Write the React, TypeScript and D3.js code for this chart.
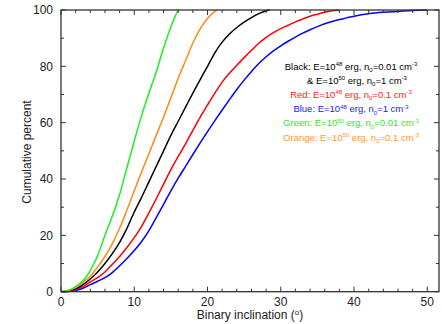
import React from "react";
import * as d3 from "d3";

const W = 442;
const H = 324;

// Cumulative percent vs binary inclination (degrees)
const green: [number, number][] = [
  [0, 0], [0.5, 0.2], [1, 0.5], [1.5, 1.0], [2, 1.8], [2.5, 2.8], [3, 4.0], [3.5, 5.5], [4, 7.5],
  [4.5, 10], [5, 12.8], [6, 20], [7, 26.8], [8, 34.5], [9, 44], [10, 53.5], [11, 62.5], [12, 70.5],
  [13, 78], [14, 86.5], [15, 94], [15.5, 97.3], [16, 100],
];
const orange: [number, number][] = [
  [0, 0], [1, 0.4], [2, 1.5], [3, 3.4], [4, 5.5], [5, 8.8], [6, 12.5], [7, 17], [8, 22.5], [9, 29],
  [10, 35.8], [11, 42.5], [12, 49], [13, 55.5], [14, 62], [15, 68.8], [16, 75.8], [17, 82], [18, 88.3],
  [19, 93.3], [20, 97], [21, 99.5], [21.3, 100],
];
const black: [number, number][] = [
  [0, 0], [1, 0.3], [2, 1.0], [3, 2.5], [4, 4.5], [5, 7], [6, 10], [7, 13.5], [8, 17.5], [9, 22.5],
  [10, 28.3], [11, 33.5], [12, 39], [13, 44.5], [14, 50], [15, 55.5], [16, 60.5], [17, 65.5],
  [18, 70.5], [19, 75.3], [20, 80], [21, 84.8], [22, 88.6], [23, 91.5], [24, 93.8], [25, 95.7],
  [26, 97.3], [27, 98.7], [28, 99.7], [28.5, 100],
];
const red: [number, number][] = [
  [0, 0], [1, 0.2], [2, 0.7], [3, 1.8], [4, 3.5], [5, 5], [6, 7], [7, 9.7], [8, 12.5], [9, 15.7],
  [10, 19.2], [11, 23.2], [12, 28], [13, 33], [14, 38.2], [15, 43.3], [16, 48], [17, 52.5], [18, 57.3],
  [19, 62], [20, 66.3], [21, 70.5], [22, 74.4], [23, 77.6], [24, 80.4], [25, 83.1], [26, 85.7], [27, 88.2],
  [28, 90.3], [29, 92], [30, 93.4], [31, 94.6], [32, 95.8], [33, 96.8], [34, 97.8], [35, 98.5],
  [36, 99.2], [37, 99.7], [38, 100],
];
const blue: [number, number][] = [
  [0, 0], [1, 0.1], [2, 0.4], [3, 1.2], [4, 2.5], [5, 3.7], [6, 5], [7, 6.8], [8, 9.2], [9, 11.8],
  [10, 14.6], [11, 17.8], [12, 21.7], [13, 26.3], [14, 31], [15, 35.8], [16, 40.3], [17, 44.5], [18, 48.7],
  [19, 52.8], [20, 56.8], [21, 60.7], [22, 64.5], [23, 68.2], [24, 71.8], [25, 75.1], [26, 78.2],
  [27, 81], [28, 83.4], [29, 85.5], [30, 87.3], [31, 88.9], [32, 90.4], [33, 91.8], [34, 93],
  [35, 94.1], [36, 95.1], [37, 95.9], [38, 96.6], [39, 97.2], [40, 97.8], [41, 98.3], [42, 98.7],
  [44, 99.2], [46, 99.5], [48, 99.8], [50, 100],
];

const seriesList = [
  { name: "blue", data: blue, color: "#0000ff" },
  { name: "red", data: red, color: "#ff0000" },
  { name: "black", data: black, color: "#000000" },
  { name: "orange", data: orange, color: "#ff8a14" },
  { name: "green", data: green, color: "#1ef01e" },
];

const xTickLabels = [0, 10, 20, 30, 40, 50];
const yTickLabels = [0, 20, 40, 60, 80, 100];

type Part = { t: string; sup?: boolean; sub?: boolean };
const legendLines: { color: string; parts: Part[]; dx: number }[] = [
  { color: "#000000", dx: 0, parts: [{ t: "Black: E=10" }, { t: "48", sup: true }, { t: " erg, n" }, { t: "0", sub: true }, { t: "=0.01 cm" }, { t: "-3", sup: true }] },
  { color: "#000000", dx: 6, parts: [{ t: "&  E=10" }, { t: "50", sup: true }, { t: " erg, n" }, { t: "0", sub: true }, { t: "=1 cm" }, { t: "-3", sup: true }] },
  { color: "#ff2020", dx: 0, parts: [{ t: "Red: E=10" }, { t: "48", sup: true }, { t: " erg, n" }, { t: "0", sub: true }, { t: "=0.1 cm" }, { t: "-3", sup: true }] },
  { color: "#2020ff", dx: 0, parts: [{ t: "Blue: E=10" }, { t: "48", sup: true }, { t: " erg, n" }, { t: "0", sub: true }, { t: "=1 cm" }, { t: "-3", sup: true }] },
  { color: "#22ee22", dx: 0, parts: [{ t: "Green: E=10" }, { t: "50", sup: true }, { t: " erg, n" }, { t: "0", sub: true }, { t: "=0.01 cm" }, { t: "-3", sup: true }] },
  { color: "#ff9430", dx: 0, parts: [{ t: "Orange: E=10" }, { t: "50", sup: true }, { t: " erg, n" }, { t: "0", sub: true }, { t: "=0.1 cm" }, { t: "-3", sup: true }] },
];

export default function App() {
  const left = 61, right = 439, top = 10, bottom = 291.7;
  const x = d3.scaleLinear().domain([0, 51.6]).range([left, right]);
  const y = d3.scaleLinear().domain([0, 100]).range([bottom, top]);
  const line = d3
    .line<[number, number]>()
    .x((d) => x(d[0]))
    .y((d) => y(d[1]))
    .curve(d3.curveMonotoneX);

  const xTicks = d3.range(0, 52, 2);
  const yTicks = d3.range(0, 101, 10);
  const axisColor = "#333";
  const font = "Liberation Sans, Arial, Helvetica, sans-serif";

  return (
    <svg width={W} height={H} style={{ position: "absolute", left: 0, top: 0 }} fontFamily={font}>
      <rect x={0} y={0} width={W} height={H} fill="#fff" />
      {seriesList.map((s) => (
        <path key={s.name} d={line(s.data) || ""} fill="none" stroke={s.color} strokeWidth={1.5} strokeLinejoin="round" />
      ))}
      {/* frame */}
      <rect x={left} y={top} width={right - left} height={bottom - top} fill="none" stroke={axisColor} strokeWidth={1.3} />
      {xTicks.map((v) => {
        const len = v % 10 === 0 ? 5 : 3;
        return (
          <g key={"xt" + v}>
            <line x1={x(v)} x2={x(v)} y1={bottom} y2={bottom - len} stroke={axisColor} strokeWidth={1} />
            <line x1={x(v)} x2={x(v)} y1={top} y2={top + len} stroke={axisColor} strokeWidth={1} />
          </g>
        );
      })}
      {yTicks.map((v) => {
        const len = v % 20 === 0 ? 5 : 3;
        return (
          <g key={"yt" + v}>
            <line x1={left} x2={left + len} y1={y(v)} y2={y(v)} stroke={axisColor} strokeWidth={1} />
            <line x1={right} x2={right - len} y1={y(v)} y2={y(v)} stroke={axisColor} strokeWidth={1} />
          </g>
        );
      })}
      {xTickLabels.map((v) => (
        <text key={"xl" + v} x={x(v)} y={306} textAnchor="middle" fontSize={12} fill="#222">{v}</text>
      ))}
      {yTickLabels.map((v) => (
        <text key={"yl" + v} x={53} y={y(v) + 4.3} textAnchor="end" fontSize={12} fill="#222">{v}</text>
      ))}
      <text x={250} y={319} textAnchor="middle" fontSize={12} fill="#222">
        Binary inclination (<tspan fontSize={8} dy={-4}>o</tspan><tspan dy={4}>)</tspan>
      </text>
      <text transform="translate(31,152) rotate(-90)" textAnchor="middle" fontSize={12} fill="#222">Cumulative percent</text>
      {legendLines.map((ln, i) => (
        <text key={"lg" + i} x={351 + ln.dx} y={69.5 + i * 14.2} textAnchor="middle" fontSize={9.5} fill={ln.color}>
          {ln.parts.map((p, j) => {
            const prev = j > 0 ? ln.parts[j - 1] : null;
            let dy = 0;
            if (prev && prev.sup) dy += 3.5;
            if (prev && prev.sub) dy -= 2.5;
            if (p.sup) dy -= 3.5;
            if (p.sub) dy += 2.5;
            return (
              <tspan key={j} dy={dy} fontSize={p.sup || p.sub ? 6 : 9.5}>{p.t}</tspan>
            );
          })}
        </text>
      ))}
    </svg>
  );
}
